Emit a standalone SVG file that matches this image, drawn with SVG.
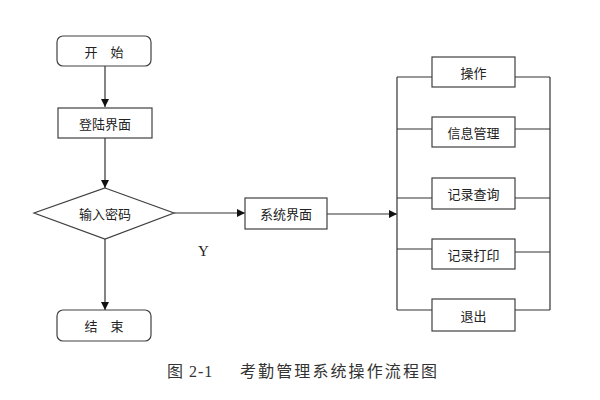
<svg xmlns="http://www.w3.org/2000/svg" width="600" height="400" viewBox="0 0 600 400">
<style>
.box{fill:#fff;stroke:#404040;stroke-width:1.2}
.t{font-family:"Noto Sans CJK SC","Noto Sans",sans-serif;font-size:13px;fill:#222;text-anchor:middle;dominant-baseline:central}
.ln{fill:none;stroke:#333;stroke-width:1.2}
.cap{font-family:"Liberation Serif","Noto Sans CJK SC",serif;font-size:16px;fill:#333}
</style>
<defs>
<marker id="ah" viewBox="0 0 10 10" refX="10" refY="5" markerWidth="8" markerHeight="8" markerUnits="userSpaceOnUse" orient="auto">
<path d="M0,0 L10,5 L0,10 Z" fill="#111"/>
</marker>
</defs>
<rect width="600" height="400" fill="#fff"/>
<g id="connectors">
<line class="ln" x1="105" y1="66" x2="105" y2="107" marker-end="url(#ah)"/>
<line class="ln" x1="105" y1="138" x2="105" y2="188" marker-end="url(#ah)"/>
<line class="ln" x1="105" y1="239" x2="105" y2="310" marker-end="url(#ah)"/>
<line class="ln" x1="174" y1="213" x2="245" y2="213" marker-end="url(#ah)"/>
<line class="ln" x1="327" y1="214" x2="397" y2="214" marker-end="url(#ah)"/>
<line class="ln" x1="397" y1="77" x2="397" y2="310"/>
<line class="ln" x1="550" y1="77" x2="550" y2="310"/>
<line class="ln" x1="397" y1="77" x2="432" y2="77"/>
<line class="ln" x1="515" y1="77" x2="550" y2="77"/>
<line class="ln" x1="397" y1="129" x2="432" y2="129"/>
<line class="ln" x1="515" y1="129" x2="550" y2="129"/>
<line class="ln" x1="397" y1="198" x2="432" y2="198"/>
<line class="ln" x1="515" y1="198" x2="550" y2="198"/>
<line class="ln" x1="397" y1="249" x2="432" y2="249"/>
<line class="ln" x1="515" y1="252" x2="550" y2="252"/>
<line class="ln" x1="397" y1="310" x2="432" y2="310"/>
<line class="ln" x1="515" y1="310" x2="550" y2="310"/>
<text x="198" y="256" font-family="Liberation Serif,serif" font-size="15" fill="#222">Y</text>
</g>
<g id="start"><rect class="box" x="57" y="36" width="94" height="30" rx="6"/><text class="t" x="104" y="51">开　始</text></g>
<g id="login"><rect class="box" x="58" y="108" width="94" height="30"/><text class="t" x="105" y="123">登陆界面</text></g>
<g id="pwd"><polygon class="box" points="105,188 174,213 105,239 34,213"/><text class="t" x="105" y="213">输入密码</text></g>
<g id="end"><rect class="box" x="57" y="310" width="94" height="31" rx="6"/><text class="t" x="104" y="325.5">结　束</text></g>
<g id="sys"><rect class="box" x="245" y="198" width="82" height="31"/><text class="t" x="286" y="213.5">系统界面</text></g>
<g id="op"><rect class="box" x="432" y="57" width="83" height="30"/><text class="t" x="473.5" y="72">操作</text></g>
<g id="info"><rect class="box" x="432" y="117" width="83" height="30"/><text class="t" x="473.5" y="132">信息管理</text></g>
<g id="query"><rect class="box" x="432" y="178" width="83" height="31"/><text class="t" x="473.5" y="193.5">记录查询</text></g>
<g id="print"><rect class="box" x="432" y="239" width="83" height="30"/><text class="t" x="473.5" y="254">记录打印</text></g>
<g id="exit"><rect class="box" x="432" y="299" width="83" height="32"/><text class="t" x="473.5" y="315">退出</text></g>
<text class="cap" x="167" y="377" letter-spacing="1">图 2-1</text>
<text class="cap" x="240" y="377" textLength="197" lengthAdjust="spacing">考勤管理系统操作流程图</text>
</svg>
